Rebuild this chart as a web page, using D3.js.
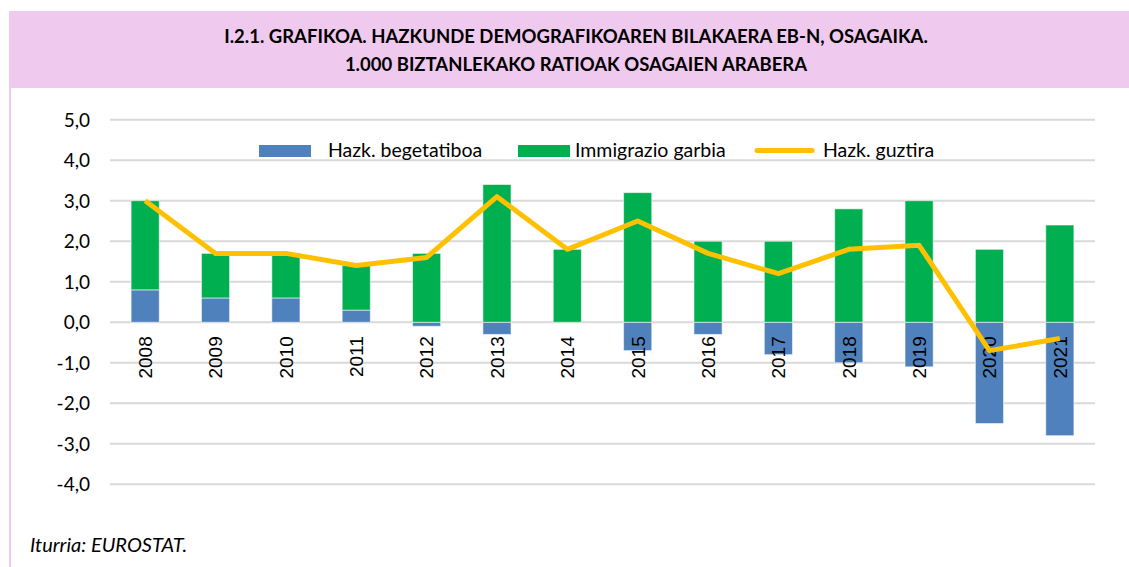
<!DOCTYPE html>
<html>
<head>
<meta charset="utf-8">
<script src="https://cdn.jsdelivr.net/npm/d3@7"></script>
<style>
  html, body { margin: 0; padding: 0; background: #fff; }
  svg { display: block; }
  text { font-family: Lato, "Open Sans", sans-serif; fill: #000; }
</style>
</head>
<body>
<svg id="chart" width="1129" height="567"></svg>
<script>
const years = ["2008","2009","2010","2011","2012","2013","2014","2015","2016","2017","2018","2019","2020","2021"];
const natural = [0.8, 0.6, 0.6, 0.3, -0.1, -0.3, 0.0, -0.7, -0.3, -0.8, -1.0, -1.1, -2.5, -2.8];
const migration = [2.2, 1.1, 1.1, 1.1, 1.7, 3.4, 1.8, 3.2, 2.0, 2.0, 2.8, 3.0, 1.8, 2.4];
const total = [3.0, 1.7, 1.7, 1.4, 1.6, 3.1, 1.8, 2.5, 1.7, 1.2, 1.8, 1.9, -0.7, -0.4];
const yTicks = [5, 4, 3, 2, 1, 0, -1, -2, -3, -4];
const seriesNames = ["Hazk. begetatiboa", "Immigrazio garbia", "Hazk. guztira"];
const titleLines = ["I.2.1. GRAFIKOA. HAZKUNDE DEMOGRAFIKOAREN BILAKAERA EB-N, OSAGAIKA.",
                    "1.000 BIZTANLEKAKO RATIOAK OSAGAIEN ARABERA"];
const sourceText = "Iturria: EUROSTAT.";

const colors = { natural: "#4F81BD", migration: "#00B050", total: "#FFC000", grid: "#D9D9D9", pink: "#F0CAEE" };

const svg = d3.select("#chart");

// header band and left border
svg.append("rect").attr("x", 9).attr("y", 11).attr("width", 1120).attr("height", 77).attr("fill", colors.pink);
svg.append("rect").attr("x", 9).attr("y", 88).attr("width", 2).attr("height", 479).attr("fill", colors.pink);

svg.selectAll("text.title").data(titleLines).join("text")
  .attr("class", "title")
  .attr("x", 576).attr("y", (d, i) => 43 + i * 27.5)
  .attr("text-anchor", "middle")
  .style("font-weight", "bold").style("font-size", "18.5px")
  .text(d => d);

const x = d3.scaleBand().domain(years).range([110, 1095]).paddingInner(0.6).paddingOuter(0.3);
const y = d3.scaleLinear().domain([-4, 5]).range([484.3, 119.7]);

// gridlines
svg.append("g").selectAll("line").data(yTicks).join("line")
  .attr("x1", 110).attr("x2", 1095)
  .attr("y1", d => y(d)).attr("y2", d => y(d))
  .attr("stroke", colors.grid).attr("stroke-width", 2);

// y axis labels
const yAxis = d3.axisLeft(y).tickValues(yTicks).tickSize(0).tickPadding(0)
  .tickFormat(d => d3.format(".1f")(d).replace(".", ",").replace("−", "-"));
const gy = svg.append("g").attr("transform", "translate(90,0)").call(yAxis);
gy.select(".domain").remove();
gy.selectAll("text").style("font-size", "19px").style("font-family", "Lato, sans-serif").attr("dy", "0.35em");

// stacked bars
const stackData = years.map((yr, i) => {
  const n = natural[i], m = migration[i];
  const segs = [];
  if (n >= 0) {
    segs.push({ yr, key: "natural", y0: 0, y1: n });
    segs.push({ yr, key: "migration", y0: n, y1: n + m });
  } else {
    segs.push({ yr, key: "natural", y0: n, y1: 0 });
    segs.push({ yr, key: "migration", y0: 0, y1: m });
  }
  return segs;
}).flat().filter(s => s.y1 !== s.y0);

svg.append("g").selectAll("rect").data(stackData).join("rect")
  .attr("x", d => x(d.yr))
  .attr("width", x.bandwidth())
  .attr("y", d => y(Math.max(d.y0, d.y1)))
  .attr("height", d => Math.abs(y(d.y0) - y(d.y1)))
  .attr("fill", d => colors[d.key])
  .attr("stroke", "rgba(255,255,255,0.55)").attr("stroke-width", 1);

// x labels (rotated)
const xAxis = d3.axisBottom(x).tickSize(0).tickPadding(0);
const gx = svg.append("g").attr("transform", `translate(0,${y(0)})`).call(xAxis);
gx.select(".domain").remove();
gx.selectAll("text")
  .style("font-size", "19px").style("font-family", "'Liberation Sans', Arial, sans-serif")
  .attr("text-anchor", "end")
  .attr("transform", "rotate(-90)")
  .attr("x", -14).attr("y", 0).attr("dy", "0.36em");

// total line
const line = d3.line().x((d, i) => x(years[i]) + x.bandwidth() / 2).y(d => y(d));
svg.append("path").datum(total).attr("d", line)
  .attr("fill", "none").attr("stroke", colors.total).attr("stroke-width", 5)
  .attr("stroke-linejoin", "round").attr("stroke-linecap", "butt");

// legend
const lg = svg.append("g");
lg.append("rect").attr("x", 259).attr("y", 145).attr("width", 52).attr("height", 12).attr("fill", colors.natural);
lg.append("text").attr("x", 328).attr("y", 157).style("font-size", "19.5px").text(seriesNames[0]);
lg.append("rect").attr("x", 518).attr("y", 145).attr("width", 52).attr("height", 12).attr("fill", colors.migration);
lg.append("text").attr("x", 575).attr("y", 157).style("font-size", "19.5px").text(seriesNames[1]);
lg.append("line").attr("x1", 757).attr("x2", 812).attr("y1", 150.5).attr("y2", 150.5)
  .attr("stroke", colors.total).attr("stroke-width", 5).attr("stroke-linecap", "round");
lg.append("text").attr("x", 823).attr("y", 157).style("font-size", "19.5px").text(seriesNames[2]);

// source
svg.append("text").attr("x", 30).attr("y", 552)
  .style("font-size", "20px").style("font-style", "italic").text(sourceText);
</script>
</body>
</html>
